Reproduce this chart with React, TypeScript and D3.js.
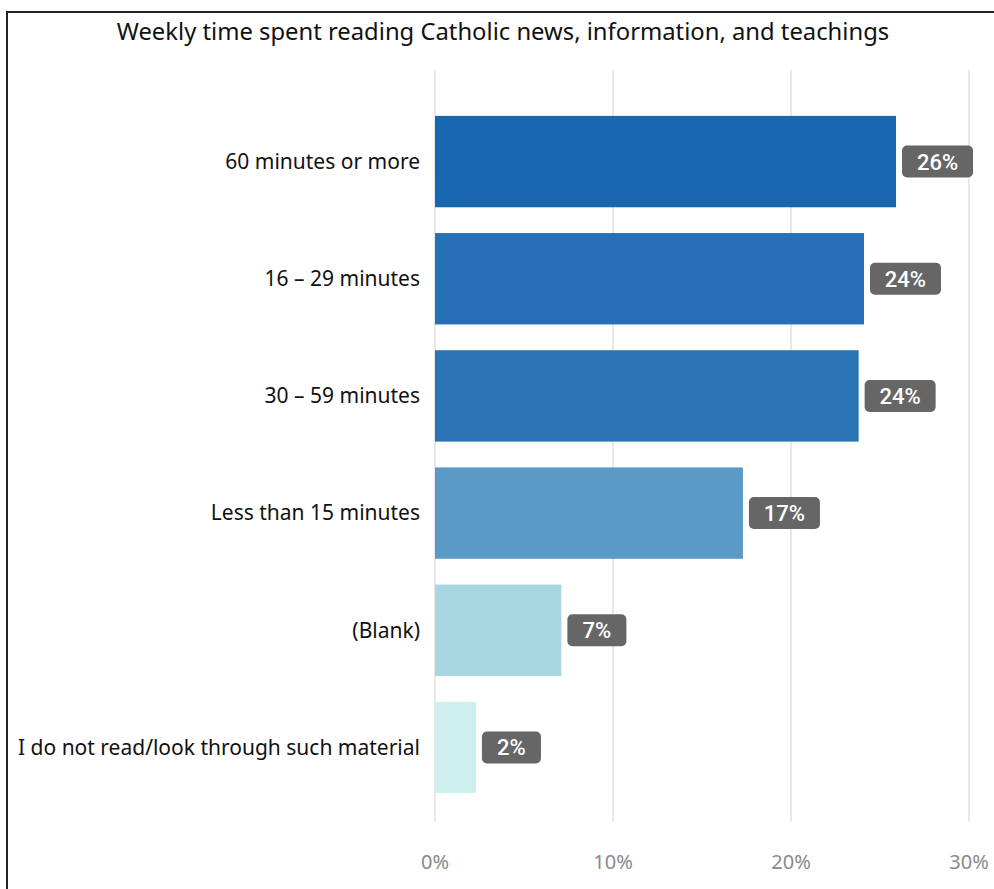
import React from "react";
import * as d3 from "d3";

const categories = [
  "60 minutes or more",
  "16 – 29 minutes",
  "30 – 59 minutes",
  "Less than 15 minutes",
  "(Blank)",
  "I do not read/look through such material",
];
const values = [0.259, 0.241, 0.238, 0.173, 0.071, 0.023];
const labels = ["26%", "24%", "24%", "17%", "7%", "2%"];
const colors = ["#1865B0", "#2670B5", "#2A74B5", "#5B99C7", "#A8D6E2", "#CDF0EE"];
const ticks = [0, 0.1, 0.2, 0.3];
const title = "Weekly time spent reading Catholic news, information, and teachings";

const W = 994;
const H = 889;
const FONT = "'Noto Sans', 'Open Sans', sans-serif";

export default function App() {
  const x = d3.scaleLinear().domain([0, 0.3]).range([435, 969]);
  const y = d3
    .scaleBand<string>()
    .domain(categories)
    .range([103, 806])
    .paddingInner(0.22)
    .paddingOuter(0.11);
  const badgeW = (s: string) => s.length * 12 + 35;

  return (
    <>
      <style>{"body{margin:0}"}</style>
      <svg width={W} height={H} style={{ display: "block" }}>
        <rect x={0} y={0} width={W} height={H} fill="#fff" />
        <rect x={7} y={12} width={W + 20} height={H + 20} fill="none" stroke="#222" strokeWidth={2} />
        <text x={503} y={40} textAnchor="middle" fontFamily={FONT} fontSize={23.8} fill="#111">
          {title}
        </text>
        {ticks.map((t) => (
          <g key={t}>
            <line x1={x(t)} x2={x(t)} y1={70} y2={822} stroke="#e8e8e8" strokeWidth={2} />
            <text x={x(t)} y={869} textAnchor="middle" fontFamily={FONT} fontSize={20} fill="#8a8a8a">
              {d3.format(".0%")(t)}
            </text>
          </g>
        ))}
        {categories.map((c, i) => {
          const yy = y(c)!;
          const bh = y.bandwidth();
          const xe = x(values[i]);
          const bw = badgeW(labels[i]);
          return (
            <g key={c}>
              <rect x={x(0)} y={yy} width={xe - x(0)} height={bh} fill={colors[i]} />
              <text
                x={420}
                y={yy + bh / 2}
                dy="0.35em"
                textAnchor="end"
                fontFamily={FONT}
                fontSize={21}
                fill="#111"
              >
                {c}
              </text>
              <rect x={xe + 6} y={yy + bh / 2 - 16} width={bw} height={32} rx={5} fill="#666" />
              <text
                x={xe + 6 + bw / 2}
                y={yy + bh / 2}
                dy="0.36em"
                textAnchor="middle"
                fontFamily="Roboto, sans-serif"
                fontWeight={500}
                fontSize={22}
                fill="#fff"
              >
                {labels[i]}
              </text>
            </g>
          );
        })}
      </svg>
    </>
  );
}
